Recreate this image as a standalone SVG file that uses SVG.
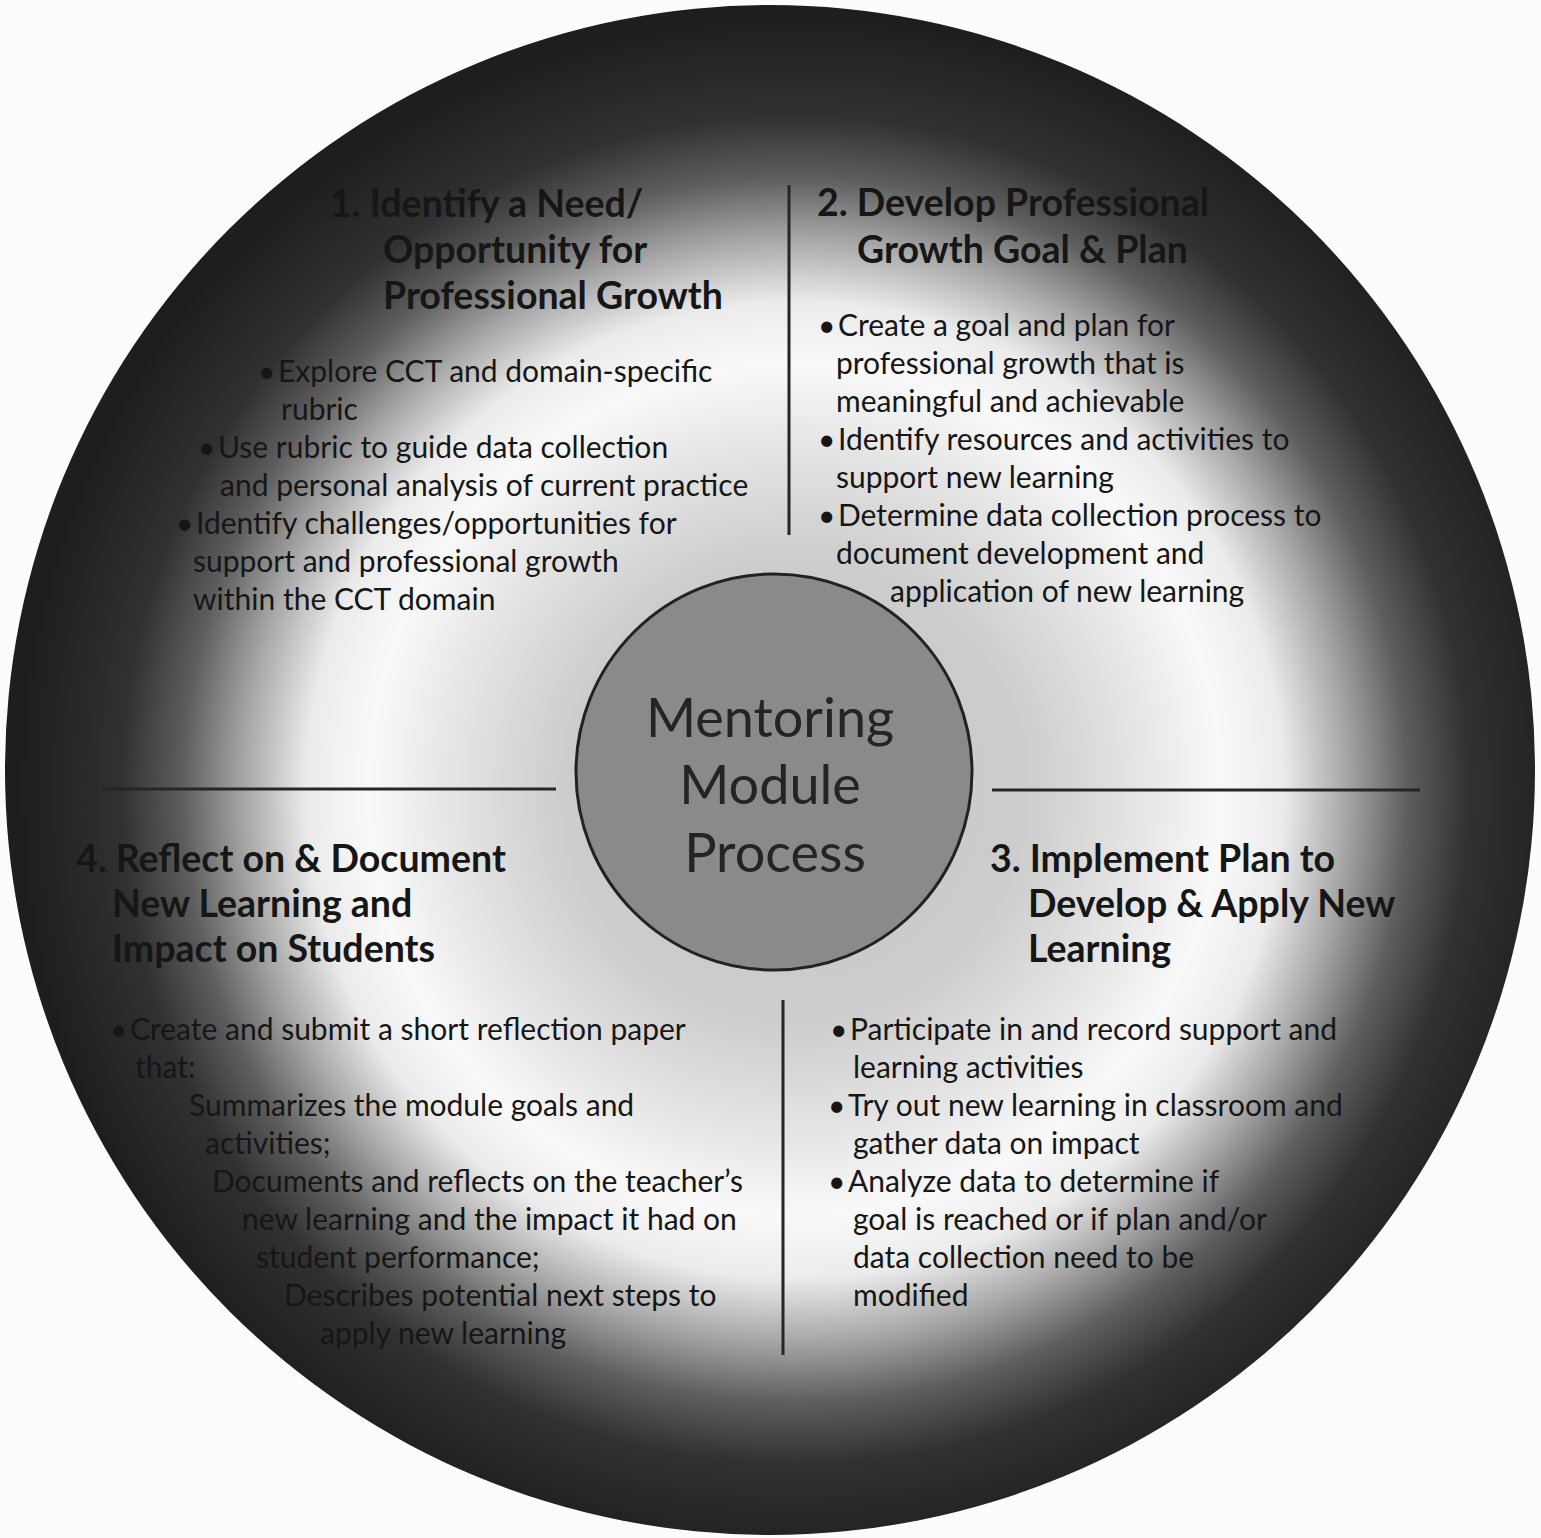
<svg xmlns="http://www.w3.org/2000/svg" width="1541" height="1538" viewBox="0 0 1541 1538">
  <defs>
    <radialGradient id="disc" cx="795" cy="790" r="775" gradientUnits="userSpaceOnUse">
      <stop offset="0" stop-color="#c4c4c4"/>
      <stop offset="0.3" stop-color="#cdcdcd"/>
      <stop offset="0.44" stop-color="#e4e4e4"/>
      <stop offset="0.55" stop-color="#f9f9f9"/>
      <stop offset="0.63" stop-color="#ebebeb"/>
      <stop offset="0.71" stop-color="#a8a8a8"/>
      <stop offset="0.79" stop-color="#5e5e5e"/>
      <stop offset="0.87" stop-color="#313131"/>
      <stop offset="1" stop-color="#1e1e1e"/>
    </radialGradient>
    <style>
      .h { font-family: Lato, "Noto Sans", "Liberation Sans", sans-serif; font-weight: 700; font-size: 37.5px; fill: #161616; }
      .b { font-family: Lato, "Noto Sans", "Liberation Sans", sans-serif; font-weight: 400; font-size: 30px; fill: #161616; }
      .c { font-family: Lato, "Noto Sans", "Liberation Sans", sans-serif; font-weight: 400; font-size: 54px; fill: #242424; text-anchor: middle; }
      .ln { stroke: #262626; stroke-width: 3; fill: none; }
    </style>
  </defs>
  <rect width="1541" height="1538" fill="#fcfcfc"/>
  <circle id="disc-bg" cx="770" cy="770" r="765" fill="url(#disc)"/>

  <g id="connectors">
    <line class="ln" x1="789" y1="185" x2="789" y2="535"/>
    <line class="ln" x1="783" y1="1000" x2="783" y2="1355"/>
    <line class="ln" x1="102" y1="789" x2="556" y2="789"/>
    <line class="ln" x1="992" y1="790" x2="1420" y2="790"/>
  </g>

  <g id="node-center">
    <circle cx="774" cy="772" r="198" fill="#8a8a8a" stroke="#222" stroke-width="3"/>
    <text class="c" x="770" y="737">Mentoring</text>
    <text class="c" x="770" y="804">Module</text>
    <text class="c" x="775" y="872">Process</text>
  </g>

  <g id="node-1">
    <text class="h" x="330" y="217">1. Identify a Need/</text>
    <text class="h" x="383" y="263">Opportunity for</text>
    <text class="h" x="383" y="309">Professional Growth</text>
    <text class="b" x="258" y="382">•</text>
    <text class="b" x="278" y="382">Explore CCT and domain-specific</text>
    <text class="b" x="281" y="420">rubric</text>
    <text class="b" x="198" y="458">•</text>
    <text class="b" x="218" y="458">Use rubric to guide data collection</text>
    <text class="b" x="220" y="496">and personal analysis of current practice</text>
    <text class="b" x="176" y="534">•</text>
    <text class="b" x="196" y="534">Identify challenges/opportunities for</text>
    <text class="b" x="193" y="572">support and professional growth</text>
    <text class="b" x="193" y="610">within the CCT domain</text>
  </g>

  <g id="node-2">
    <text class="h" x="817" y="216">2. Develop Professional</text>
    <text class="h" x="857" y="263">Growth Goal &amp; Plan</text>
    <text class="b" x="818" y="336">•</text>
    <text class="b" x="838" y="336">Create a goal and plan for</text>
    <text class="b" x="836" y="374">professional growth that is</text>
    <text class="b" x="836" y="412">meaningful and achievable</text>
    <text class="b" x="818" y="450">•</text>
    <text class="b" x="838" y="450">Identify resources and activities to</text>
    <text class="b" x="836" y="488">support new learning</text>
    <text class="b" x="818" y="526">•</text>
    <text class="b" x="838" y="526">Determine data collection process to</text>
    <text class="b" x="836" y="564">document development and</text>
    <text class="b" x="890" y="602">application of new learning</text>
  </g>

  <g id="node-3">
    <text class="h" x="990" y="872">3. Implement Plan to</text>
    <text class="h" x="1028" y="917">Develop &amp; Apply New</text>
    <text class="h" x="1028" y="962">Learning</text>
    <text class="b" x="830" y="1040">•</text>
    <text class="b" x="850" y="1040">Participate in and record support and</text>
    <text class="b" x="853" y="1078">learning activities</text>
    <text class="b" x="828" y="1116">•</text>
    <text class="b" x="848" y="1116">Try out new learning in classroom and</text>
    <text class="b" x="853" y="1154">gather data on impact</text>
    <text class="b" x="828" y="1192">•</text>
    <text class="b" x="848" y="1192">Analyze data to determine if</text>
    <text class="b" x="853" y="1230">goal is reached or if plan and/or</text>
    <text class="b" x="853" y="1268">data collection need to be</text>
    <text class="b" x="853" y="1306">modified</text>
  </g>

  <g id="node-4">
    <text class="h" x="76" y="872">4. Reflect on &amp; Document</text>
    <text class="h" x="112" y="917">New Learning and</text>
    <text class="h" x="112" y="962">Impact on Students</text>
    <text class="b" x="110" y="1040">•</text>
    <text class="b" x="130" y="1040">Create and submit a short reflection paper</text>
    <text class="b" x="135" y="1078">that:</text>
    <text class="b" x="189" y="1116">Summarizes the module goals and</text>
    <text class="b" x="205" y="1154">activities;</text>
    <text class="b" x="212" y="1192">Documents and reflects on the teacher’s</text>
    <text class="b" x="242" y="1230">new learning and the impact it had on</text>
    <text class="b" x="256" y="1268">student performance;</text>
    <text class="b" x="284" y="1306">Describes potential next steps to</text>
    <text class="b" x="320" y="1344">apply new learning</text>
  </g>
</svg>
